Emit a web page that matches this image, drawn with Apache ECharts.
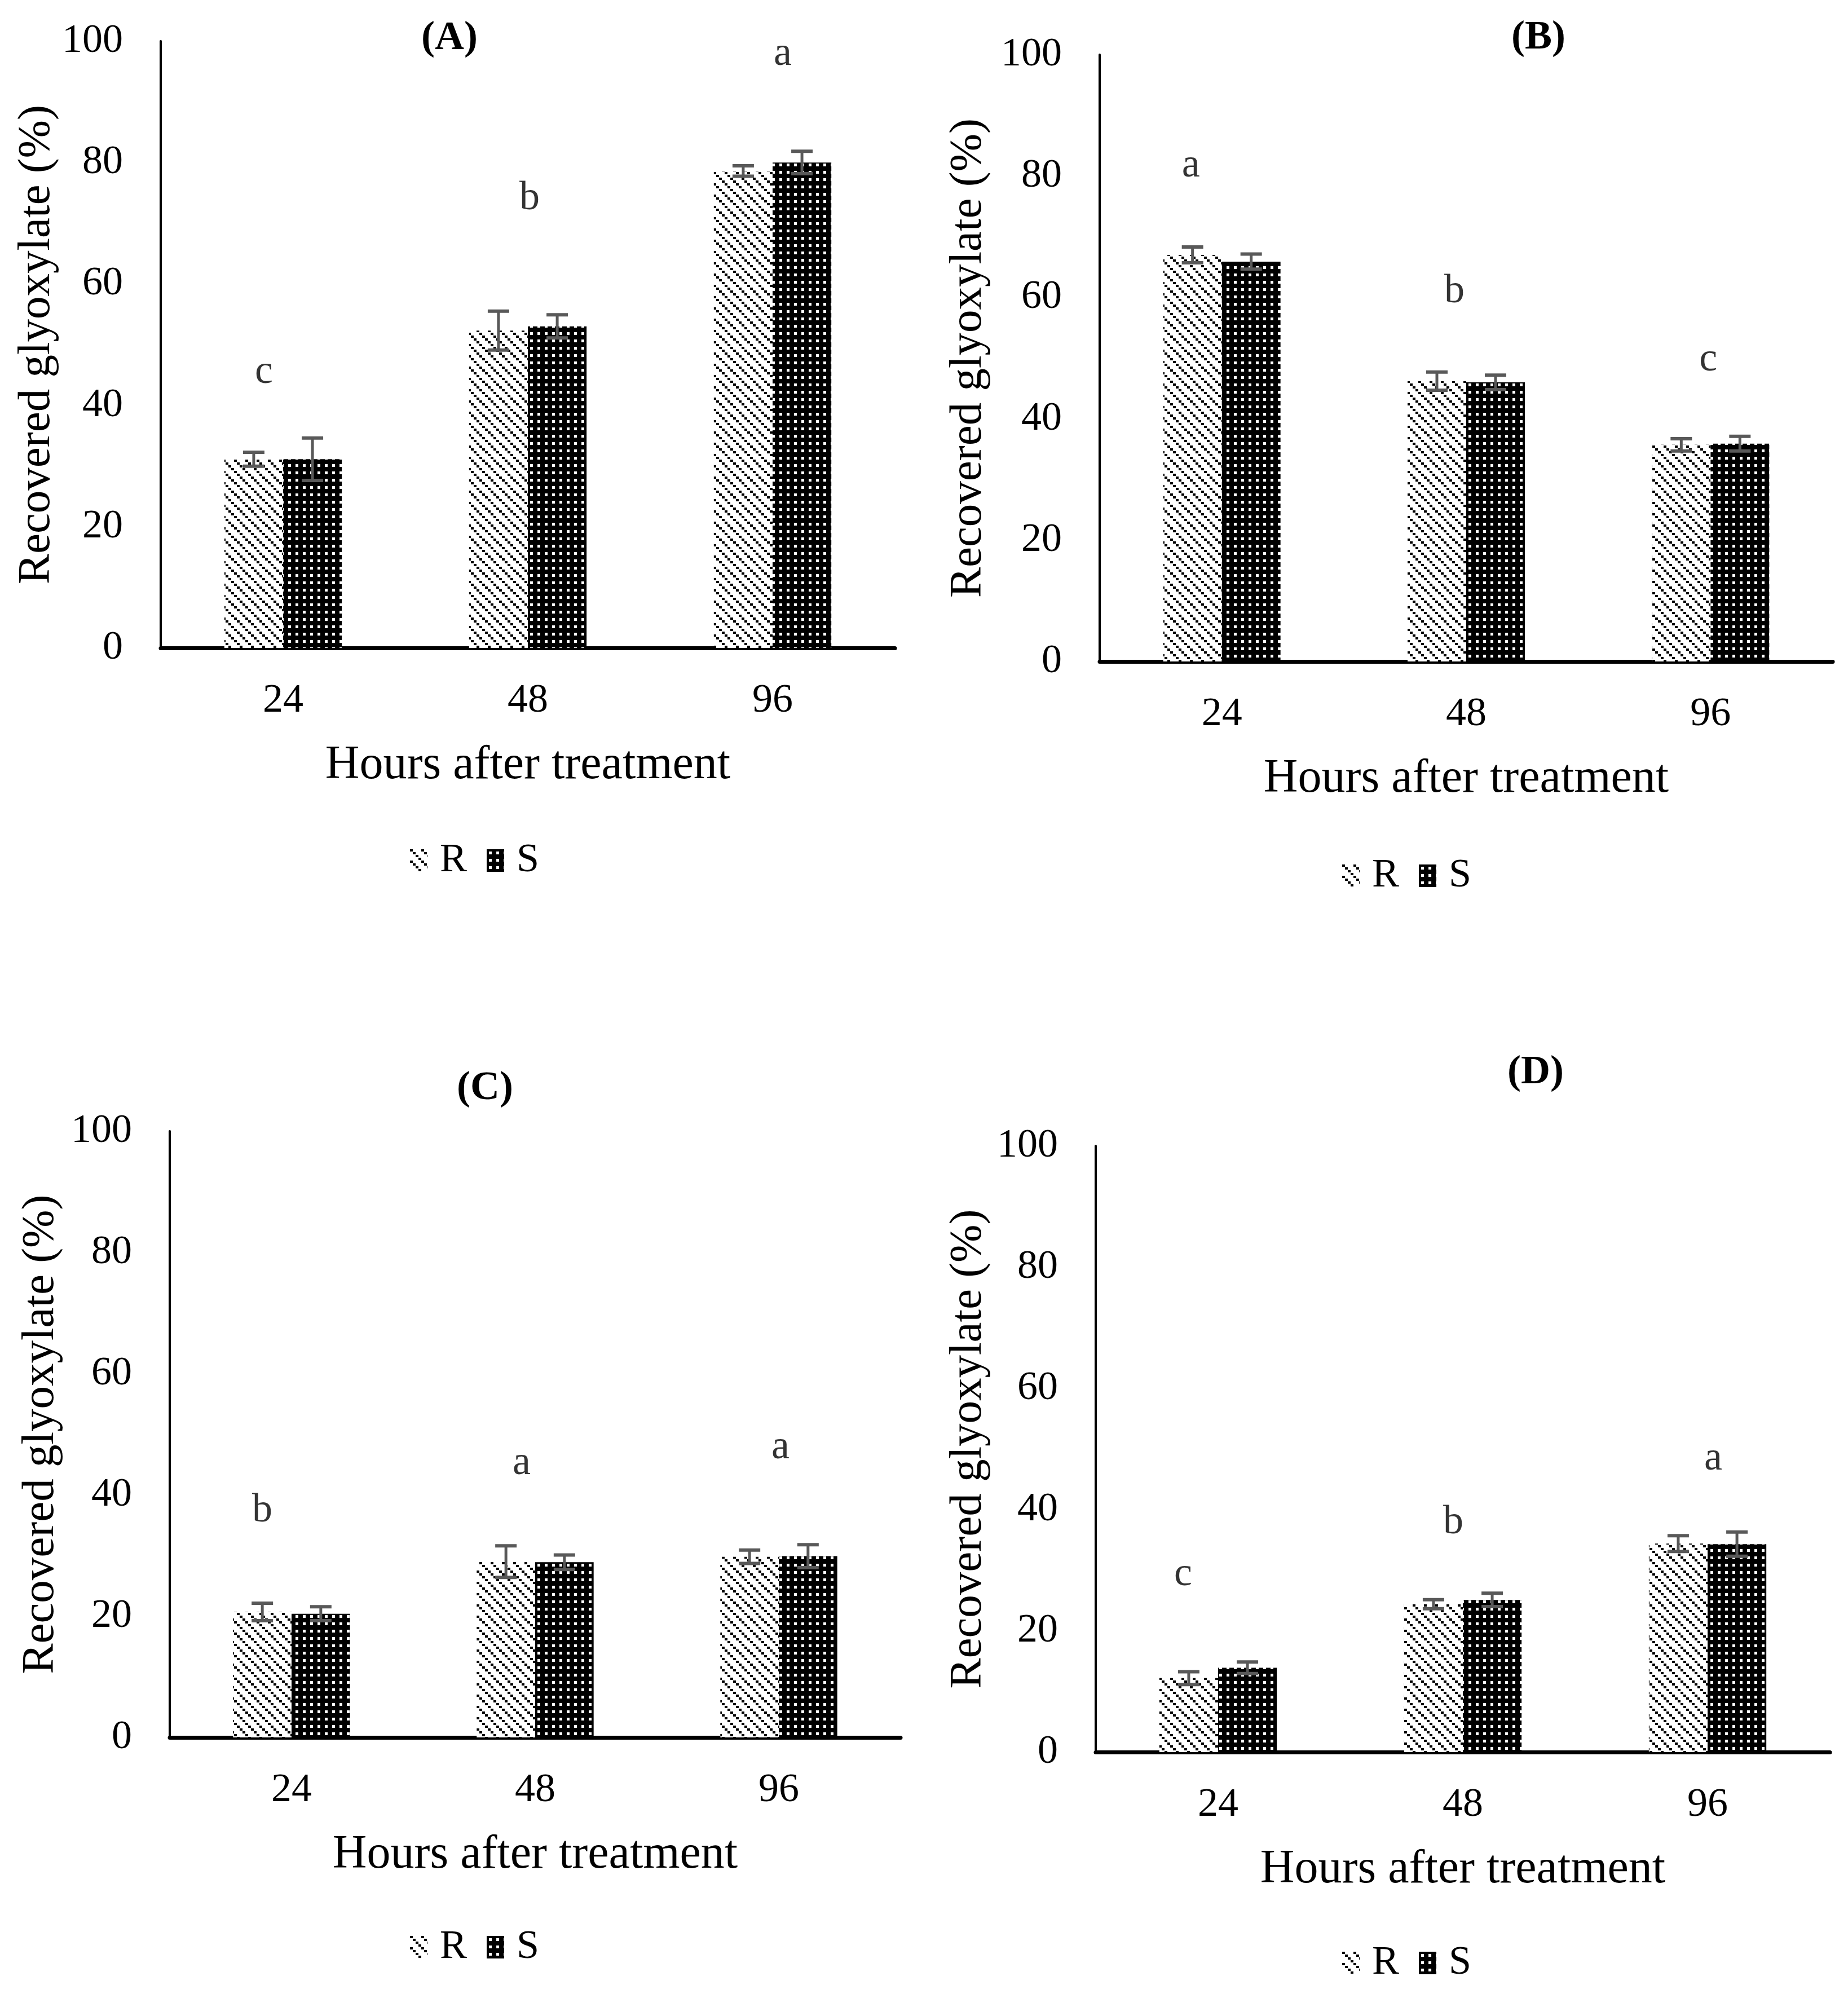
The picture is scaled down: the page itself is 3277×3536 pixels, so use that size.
<!DOCTYPE html>
<html>
<head>
<meta charset="utf-8">
<title>Recovered glyoxylate</title>
<script src="https://cdn.jsdelivr.net/npm/echarts@6/dist/echarts.min.js"></script>
<style>
  html, body { margin: 0; padding: 0; background: #fff; }
  #chart { width: 3277px; height: 3536px; }
</style>
</head>
<body>
<div id="chart"></div>
<script>
// categories
var hours = ['24', '48', '96'];

// (A)
var aR = [31.1, 52.3, 78.6];
var aS = [31.1, 53.0, 80.0];
var aRErr = [1.15, 3.2, 0.85];
var aSErr = [3.5, 1.9, 1.85];
var aLetters = ['c', 'b', 'a'];
var aLetterY = [45.4, 74.7, 97.9];

// (B)
var bR = [67.0, 46.2, 35.7];
var bS = [65.9, 46.0, 35.9];
var bRErr = [1.3, 1.5, 1.0];
var bSErr = [1.25, 1.2, 1.2];
var bLetters = ['a', 'b', 'c'];
var bLetterY = [81.7, 61.6, 49.7];

// (C)
var cR = [20.7, 29.0, 29.8];
var cS = [20.4, 28.9, 29.9];
var cRErr = [1.45, 2.6, 1.1];
var cSErr = [1.15, 1.2, 1.9];
var cLetters = ['b', 'a', 'a'];
var cLetterY = [38.0, 45.2, 47.8];

// (D)
var dR = [12.2, 24.4, 34.4];
var dS = [13.9, 25.1, 34.3];
var dRErr = [1.05, 0.75, 1.3];
var dSErr = [0.95, 1.1, 2.0];
var dLetters = ['c', 'b', 'a'];
var dLetterY = [29.3, 38.5, 48.4];

var FONT = '"Liberation Serif", "Times New Roman", serif';
var ERR_COLOR = '#595959';

// fill patterns (dashed diagonal R, dotted S)
function makeTile(kind) {
    var c = document.createElement('canvas');
    var g;
    if (kind === 'R') {
        c.width = c.height = 20;
        g = c.getContext('2d');
        g.fillStyle = '#fff';
        g.fillRect(0, 0, 20, 20);
        g.fillStyle = '#000';
        for (var k = 0; k < 4; k++) {
            g.fillRect(k * 5, k * 5, 5, 4);
        }
    } else {
        c.width = c.height = 13;
        g = c.getContext('2d');
        g.fillStyle = '#000';
        g.fillRect(0, 0, 13, 13);
        g.fillStyle = '#fff';
        g.fillRect(4, 4, 5, 5);
    }
    return c;
}
var fillR = { image: makeTile('R'), repeat: 'repeat' };
var fillS = { image: makeTile('S'), repeat: 'repeat' };

var panels = [
    { title: '(A)', r: aR, s: aS, rErr: aRErr, sErr: aSErr, letters: aLetters, letterY: aLetterY },
    { title: '(B)', r: bR, s: bS, rErr: bRErr, sErr: bSErr, letters: bLetters, letterY: bLetterY },
    { title: '(C)', r: cR, s: cS, rErr: cRErr, sErr: cSErr, letters: cLetters, letterY: cLetterY },
    { title: '(D)', r: dR, s: dS, rErr: dRErr, sErr: dSErr, letters: dLetters, letterY: dLetterY }
];

// where each panel sits on the page
var layout = [
    { left: 285, top: 73, width: 1302, height: 1076, titleX: 792, titleY: 63, yGap: 173, legendLeft: 722, legendTop: 1485, shift: [[-34, 0], [3, 7], [18, 0]] },
    { left: 1950, top: 97, width: 1300, height: 1076, titleX: 2723, titleY: 62, yGap: 192, legendLeft: 2375, legendTop: 1512, shift: [[-55, 0], [-21, 7], [-4, 0]] },
    { left: 301, top: 2006, width: 1296, height: 1075, titleX: 855, titleY: 1925, yGap: 188, legendLeft: 722, legendTop: 3412, shift: [[-52, 7], [-24, 0], [3, 0]] },
    { left: 1943, top: 2032, width: 1302, height: 1075, titleX: 2718, titleY: 1897, yGap: 185, legendLeft: 2375, legendTop: 3440, shift: [[-62, 0], [-17, 7], [10, 0]] }
];

// error bar drawn on top of each bar, through the axes' own scale
function renderErr(params, api) {
    var cat = api.value(0);
    var side = api.value(1);
    var v = api.value(2);
    var e = api.value(3);
    var band = api.size([1, 0])[0];
    var w = band * 0.24;
    var base = api.coord([cat, v]);
    var x = base[0] + (side === 0 ? -w / 2 : w / 2);
    var yt = api.coord([cat, v + e])[1];
    var yb = api.coord([cat, v - e])[1];
    var half = 19;
    return {
        type: 'group',
        children: [
            { type: 'line', shape: { x1: x, y1: yt, x2: x, y2: yb }, style: { stroke: ERR_COLOR, lineWidth: 5 } },
            { type: 'line', shape: { x1: x - half, y1: yt, x2: x + half, y2: yt }, style: { stroke: ERR_COLOR, lineWidth: 6 } },
            { type: 'line', shape: { x1: x - half, y1: yb, x2: x + half, y2: yb }, style: { stroke: ERR_COLOR, lineWidth: 6 } }
        ]
    };
}

var option = {
    backgroundColor: '#fff',
    animation: false,
    textStyle: { fontFamily: FONT, color: '#000' },
    title: [],
    legend: [],
    grid: [],
    xAxis: [],
    yAxis: [],
    series: []
};

panels.forEach(function (p, i) {
    var L = layout[i];

    option.title.push({
        text: p.title,
        left: L.titleX,
        top: L.titleY - 36,
        textAlign: 'center',
        textStyle: { fontFamily: FONT, fontSize: 72, fontWeight: 'bold', color: '#000' }
    });

    option.legend.push({
        data: ['R', 'S'],
        left: L.legendLeft,
        top: L.legendTop,
        icon: 'rect',
        itemWidth: 31,
        itemHeight: 40,
        itemGap: 35,
        selectedMode: false,
        textStyle: { fontFamily: FONT, fontSize: 72, color: '#000', padding: [0, 0, 0, 17] }
    });

    option.grid.push({ left: L.left, top: L.top, width: L.width, height: L.height, containLabel: false });

    option.xAxis.push({
        type: 'category',
        gridIndex: i,
        data: hours,
        name: 'Hours after treatment',
        nameLocation: 'middle',
        nameGap: 167,
        nameTextStyle: { fontFamily: FONT, fontSize: 84, color: '#000' },
        axisLine: { lineStyle: { color: '#000', width: 7 } },
        axisTick: { show: false },
        axisLabel: { fontFamily: FONT, fontSize: 72, color: '#000', margin: 58 },
        splitLine: { show: false }
    });

    option.yAxis.push({
        type: 'value',
        gridIndex: i,
        min: 0,
        max: 100,
        interval: 20,
        name: 'Recovered glyoxylate (%)',
        nameLocation: 'middle',
        nameGap: L.yGap,
        nameTextStyle: { fontFamily: FONT, fontSize: 81, color: '#000' },
        axisLine: { show: true, lineStyle: { color: '#000', width: 4 } },
        axisTick: { show: false },
        axisLabel: { fontFamily: FONT, fontSize: 72, color: '#000', margin: 67 },
        splitLine: { show: false }
    });

    option.series.push({
        name: 'R',
        type: 'bar',
        xAxisIndex: i,
        yAxisIndex: i,
        data: p.r,
        barGap: '0%',
        barCategoryGap: '52%',
        itemStyle: { color: fillR },
        z: 2
    });
    option.series.push({
        name: 'S',
        type: 'bar',
        xAxisIndex: i,
        yAxisIndex: i,
        data: p.s,
        barGap: '0%',
        barCategoryGap: '52%',
        itemStyle: { color: fillS },
        z: 2
    });

    var errData = [];
    for (var k = 0; k < hours.length; k++) {
        errData.push([k, 0, p.r[k], p.rErr[k]]);
        errData.push([k, 1, p.s[k], p.sErr[k]]);
    }
    option.series.push({
        type: 'custom',
        xAxisIndex: i,
        yAxisIndex: i,
        renderItem: renderErr,
        encode: { x: 0, y: 2 },
        data: errData,
        silent: true,
        z: 5
    });

    var letterData = p.letterY.map(function (y, k) { return [k, y]; });
    option.series.push({
        type: 'scatter',
        xAxisIndex: i,
        yAxisIndex: i,
        data: letterData,
        symbolSize: 1,
        itemStyle: { color: 'rgba(0,0,0,0)' },
        silent: true,
        label: {
            show: true,
            position: 'inside',
            fontFamily: FONT,
            fontSize: 72,
            color: '#000',
            formatter: function (d) { return p.letters[d.dataIndex]; }
        },
        labelLayout: function (params) {
            var s = L.shift[params.dataIndex];
            return { dx: s[0], dy: s[1] };
        },
        z: 6
    });
});

var chart = echarts.init(document.getElementById('chart'));
chart.setOption(option);
</script>
</body>
</html>
